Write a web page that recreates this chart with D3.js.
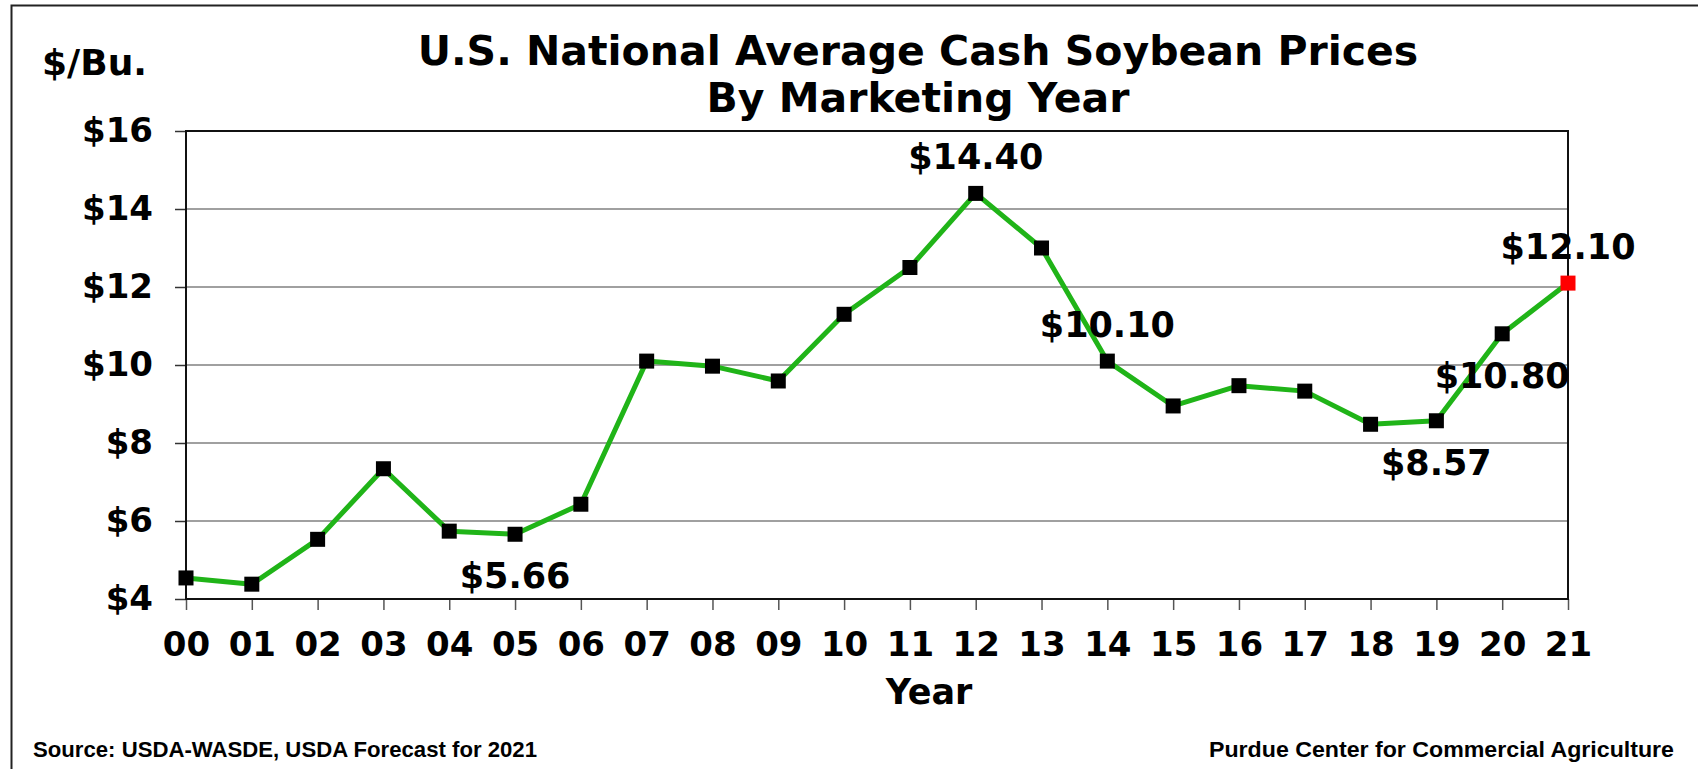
<!DOCTYPE html>
<html>
<head>
<meta charset="utf-8">
<script src="https://cdn.jsdelivr.net/npm/d3@7"></script>
<style>
  html, body { margin: 0; padding: 0; background: #fff; }
  svg { display: block; }
</style>
</head>
<body>
<div id="chart"></div>
<script>
// marketing years and prices ($/bu)
const years = ["00","01","02","03","04","05","06","07","08","09","10","11","12","13","14","15","16","17","18","19","20","21"];
const prices = [4.54, 4.38, 5.53, 7.34, 5.74, 5.66, 6.43, 10.10, 9.97, 9.59, 11.30, 12.50, 14.40, 13.00, 10.10, 8.95, 9.47, 9.33, 8.48, 8.57, 10.80, 12.10];
const yTicks = [4, 6, 8, 10, 12, 14, 16];
// which points get a label, and whether it sits above or below
const labelYears = ["05", "12", "14", "19", "20", "21"];
const labelSide = ["below", "above", "above", "below", "below", "above"];
const forecastYear = "21";

const W = 1698, H = 769;
const margin = {left: 186, right: 130, top: 131, bottom: 170};
const font = "'DejaVu Sans', Verdana, sans-serif";
const footFont = "'Liberation Sans', Arial, sans-serif";

const svg = d3.select("#chart").append("svg")
    .attr("width", W)
    .attr("height", H);

// outer frame (only left and top edges show in the picture)
svg.append("path")
    .attr("d", `M11.5,${H} L11.5,5.5 L${W},5.5`)
    .attr("fill", "none")
    .attr("stroke", "#222")
    .attr("stroke-width", 2);

const x = d3.scalePoint()
    .domain(years)
    .range([margin.left, W - margin.right]);

const y = d3.scaleLinear()
    .domain([4, 16])
    .range([H - margin.bottom, margin.top]);

// gridlines
svg.append("g")
    .selectAll("line")
    .data(yTicks.filter(d => d > 4 && d < 16))
    .join("line")
    .attr("x1", margin.left).attr("x2", W - margin.right)
    .attr("y1", d => y(d)).attr("y2", d => y(d))
    .attr("stroke", "#808080")
    .attr("stroke-width", 1.5);

// y axis
const yAxis = svg.append("g")
    .attr("transform", `translate(${margin.left},0)`)
    .call(d3.axisLeft(y).tickValues(yTicks).tickSize(11).tickPadding(22).tickFormat(d => "$" + d));
yAxis.select(".domain").remove();
yAxis.selectAll(".tick line").attr("stroke", "#333").attr("stroke-width", 1.5);
yAxis.selectAll("text")
    .attr("font-family", font)
    .attr("font-weight", "bold")
    .attr("font-size", 34)
    .attr("fill", "#000");

// x axis
const xAxis = svg.append("g")
    .attr("transform", `translate(0,${y(4)})`)
    .call(d3.axisBottom(x).tickSize(11).tickPadding(22));
xAxis.select(".domain").remove();
xAxis.selectAll(".tick line").attr("stroke", "#555").attr("stroke-width", 1.5);
xAxis.selectAll("text")
    .attr("font-family", font)
    .attr("font-weight", "bold")
    .attr("font-size", 34)
    .attr("fill", "#000");

// plot frame
svg.append("rect")
    .attr("x", margin.left)
    .attr("y", margin.top)
    .attr("width", W - margin.right - margin.left)
    .attr("height", y(4) - margin.top)
    .attr("fill", "none")
    .attr("stroke", "#111")
    .attr("stroke-width", 2);

const pts = years.map((yr, i) => ({year: yr, price: prices[i]}));

// price line
svg.append("path")
    .datum(pts)
    .attr("fill", "none")
    .attr("stroke", "#20b418")
    .attr("stroke-width", 5)
    .attr("stroke-linejoin", "round")
    .attr("d", d3.line().x(d => x(d.year)).y(d => y(d.price)));

// markers
const ms = 15;
svg.append("g")
    .selectAll("rect")
    .data(pts)
    .join("rect")
    .attr("x", d => x(d.year) - ms / 2)
    .attr("y", d => y(d.price) - ms / 2)
    .attr("width", ms)
    .attr("height", ms)
    .attr("fill", d => d.year === forecastYear ? "#ff0000" : "#000");

// value labels
svg.append("g")
    .selectAll("text")
    .data(labelYears.map((yr, i) => ({year: yr, price: prices[years.indexOf(yr)], side: labelSide[i]})))
    .join("text")
    .attr("x", d => x(d.year))
    .attr("y", d => y(d.price) + (d.side === "above" ? -24 : 54))
    .attr("text-anchor", "middle")
    .attr("font-family", font)
    .attr("font-weight", "bold")
    .attr("font-size", 35)
    .attr("fill", "#000")
    .text(d => "$" + d.price.toFixed(2));

// titles
const title = svg.append("text")
    .attr("text-anchor", "middle")
    .attr("font-family", font)
    .attr("font-weight", "bold")
    .attr("font-size", 41)
    .attr("fill", "#000");
title.append("tspan").attr("x", 918).attr("y", 65).text("U.S. National Average Cash Soybean Prices");
title.append("tspan").attr("x", 918).attr("y", 112).text("By Marketing Year");

svg.append("text")
    .attr("x", 42).attr("y", 75)
    .attr("font-family", font)
    .attr("font-weight", "bold")
    .attr("font-size", 36)
    .text("$/Bu.");

svg.append("text")
    .attr("x", 929).attr("y", 704)
    .attr("text-anchor", "middle")
    .attr("font-family", font)
    .attr("font-weight", "bold")
    .attr("font-size", 35)
    .text("Year");

svg.append("text")
    .attr("x", 33).attr("y", 757)
    .attr("font-family", footFont)
    .attr("font-weight", "bold")
    .attr("font-size", 22)
    .attr("textLength", 504)
    .attr("lengthAdjust", "spacingAndGlyphs")
    .text("Source: USDA-WASDE, USDA Forecast for 2021");

svg.append("text")
    .attr("x", 1209).attr("y", 757)
    .attr("font-family", footFont)
    .attr("font-weight", "bold")
    .attr("font-size", 22)
    .attr("textLength", 465)
    .attr("lengthAdjust", "spacingAndGlyphs")
    .text("Purdue Center for Commercial Agriculture");
</script>
</body>
</html>
